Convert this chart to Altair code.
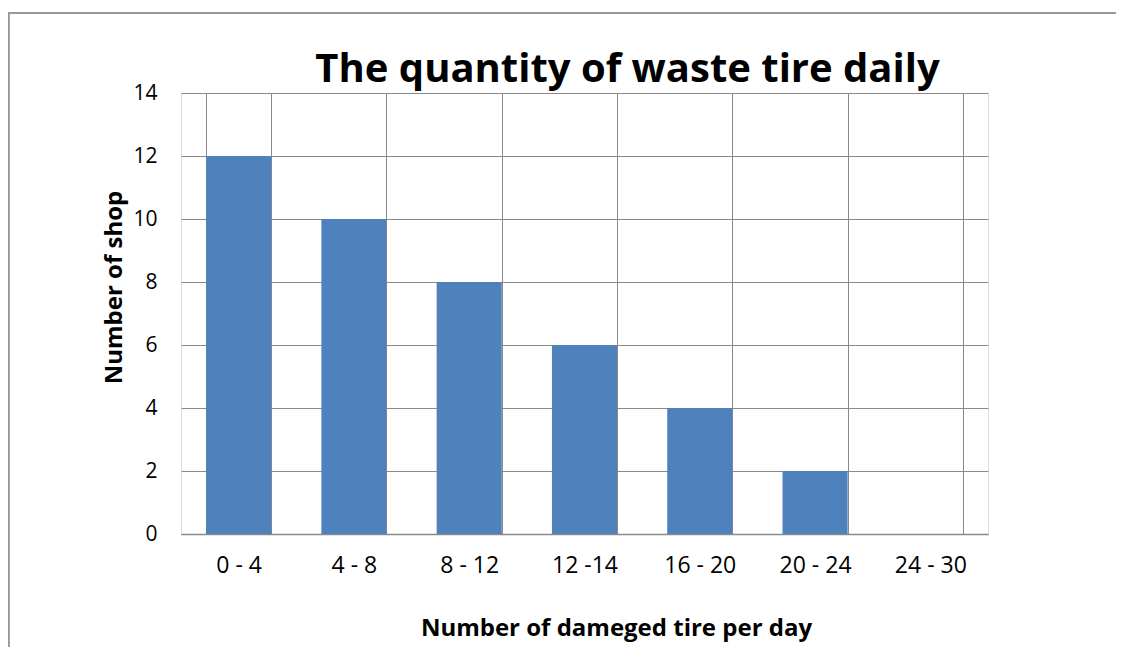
import altair as alt
import pandas as pd

categories = ["0 - 4", "4 - 8", "8 - 12", "12 -14", "16 - 20", "20 - 24", "24 - 30"]
shops = [12, 10, 8, 6, 4, 2, 0]

df = pd.DataFrame({"range": categories, "shops": shops})

FONT = "Open Sans"
GRID = "#8a8a8a"

bars = alt.Chart(df).mark_bar(color="#4F81BD").encode(
    x=alt.X("range:N", sort=categories,
            scale=alt.Scale(paddingInner=0.435, paddingOuter=0.2175),
            axis=alt.Axis(title="Number of dameged tire per day", labelAngle=0,
                          ticks=False, grid=True, tickBand="extent",
                          gridColor=GRID, domainColor=GRID, domainWidth=1.5,
                          labelFontSize=23, labelPadding=20, labelColor="black",
                          labelFont=FONT, titleFont=FONT, titleFontSize=24,
                          titleFontWeight="bold", titleColor="black", titlePadding=39,
                          titleX=435)),
    y=alt.Y("shops:Q", scale=alt.Scale(domain=[0, 14]),
            axis=alt.Axis(title="Number of shop", values=[0, 2, 4, 6, 8, 10, 12, 14],
                          ticks=False, grid=True, gridColor=GRID, domain=False,
                          labelFontSize=21, labelPadding=24, labelColor="black",
                          labelFont=FONT, titleFont=FONT, titleFontSize=24,
                          titleFontWeight="bold", titleColor="black", titlePadding=6,
                          titleY=194)),
)

frame_top = alt.Chart(df).mark_rule(color="#999999", strokeWidth=1.5).encode(
    x=alt.value(-174), x2=alt.value(960), y=alt.value(-80)
)
frame_left = alt.Chart(df).mark_rule(color="#999999", strokeWidth=1.5).encode(
    x=alt.value(-172.5), y=alt.value(-80), y2=alt.value(560)
)

chart = alt.layer(bars, frame_top, frame_left).properties(
    width=807, height=441,
    title=alt.TitleParams("The quantity of waste tire daily", font=FONT, fontSize=40,
                          fontWeight="bold", color="black", dx=43, offset=-78),
    autosize=alt.AutoSizeParams(type="none"),
    padding={"left": 173, "top": 85, "right": 128, "bottom": 113},
).configure_view(stroke=GRID, strokeWidth=1.5).configure(background="white")

chart.save("out.html", embed_options={"renderer": "svg", "actions": False})
